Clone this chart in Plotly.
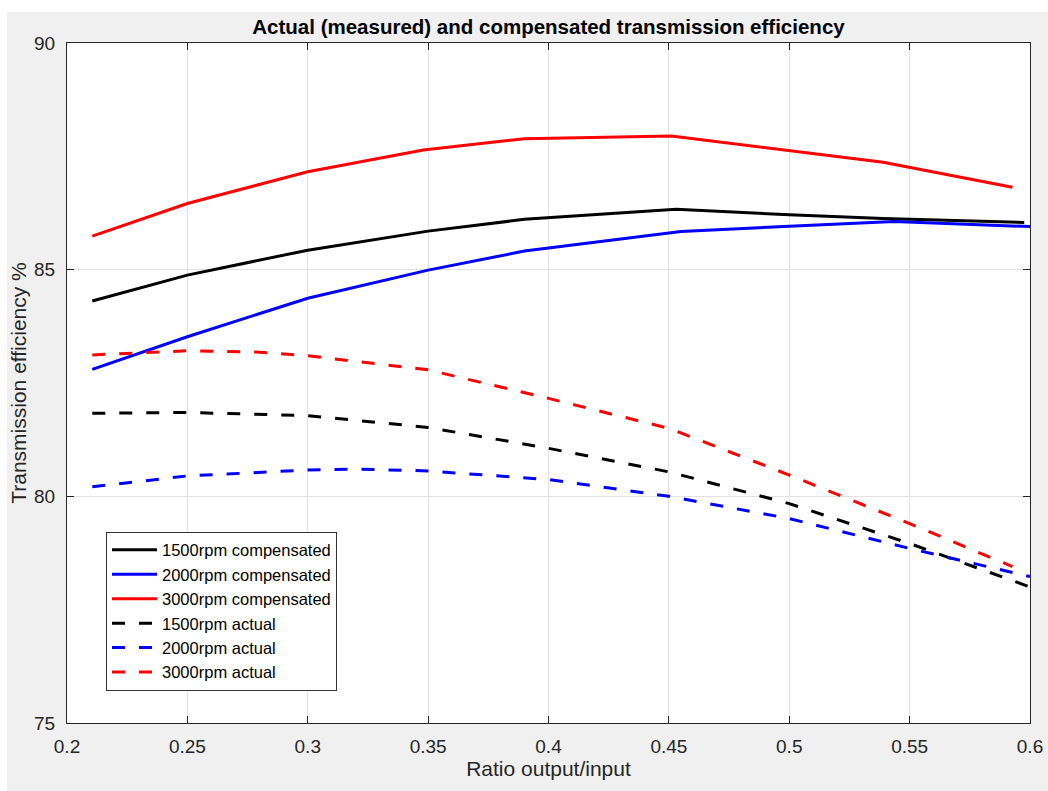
import plotly.graph_objects as go

# Compensated (solid) series
x_c1500 = [0.2105, 0.25, 0.30, 0.35, 0.39, 0.453, 0.50, 0.539, 0.5976]
y_c1500 = [84.31, 84.88, 85.43, 85.85, 86.11, 86.33, 86.21, 86.13, 86.04]

x_c2000 = [0.2105, 0.25, 0.30, 0.35, 0.39, 0.455, 0.50, 0.5435, 0.60]
y_c2000 = [82.80, 83.52, 84.37, 84.99, 85.41, 85.84, 85.96, 86.06, 85.95]

x_c3000 = [0.2105, 0.25, 0.30, 0.348, 0.39, 0.451, 0.539, 0.5927]
y_c3000 = [85.74, 86.46, 87.16, 87.64, 87.89, 87.95, 87.37, 86.82]

# Actual (dashed) series
x_a1500 = [0.2105, 0.25, 0.30, 0.35, 0.40, 0.45, 0.50, 0.55, 0.60]
y_a1500 = [81.83, 81.85, 81.78, 81.52, 81.06, 80.54, 79.84, 78.96, 78.00]

x_a2000 = [0.2105, 0.25, 0.30, 0.321, 0.35, 0.40, 0.45, 0.50, 0.55, 0.60]
y_a2000 = [80.21, 80.45, 80.58, 80.60, 80.56, 80.37, 80.00, 79.51, 78.85, 78.23]

x_a3000 = [0.2105, 0.25, 0.28, 0.30, 0.35, 0.40, 0.45, 0.50, 0.55, 0.5927]
y_a3000 = [83.12, 83.21, 83.18, 83.10, 82.79, 82.16, 81.50, 80.47, 79.40, 78.45]

names = ["1500rpm compensated", "2000rpm compensated", "3000rpm compensated",
         "1500rpm actual", "2000rpm actual", "3000rpm actual"]
x_ticks = [0.2, 0.25, 0.3, 0.35, 0.4, 0.45, 0.5, 0.55, 0.6]
x_tick_text = ["0.2", "0.25", "0.3", "0.35", "0.4", "0.45", "0.5", "0.55", "0.6"]
y_ticks = [75, 80, 85, 90]

xs = [x_c1500, x_c2000, x_c3000, x_a1500, x_a2000, x_a3000]
ys = [y_c1500, y_c2000, y_c3000, y_a1500, y_a2000, y_a3000]
colors = ["#000000", "#0000ff", "#ff0000", "#000000", "#0000ff", "#ff0000"]
dashes = ["solid", "solid", "solid", "13px,14px", "13px,14px", "13px,14px"]

FONT = "Liberation Sans, Arial, Helvetica, sans-serif"

fig = go.Figure()
for i in range(6):
    fig.add_trace(go.Scatter(
        x=xs[i], y=ys[i], mode="lines", name=names[i],
        line=dict(color=colors[i], width=3, dash=dashes[i]),
    ))

axis_common = dict(
    showline=True, linecolor="#262626", linewidth=1, mirror="ticks",
    ticks="inside", ticklen=7, tickcolor="#262626",
    showgrid=True, gridcolor="#e2e2e2", gridwidth=1,
    zeroline=False, automargin=False,
    tickfont=dict(family=FONT, size=19, color="#262626"),
)

# page offset (body margin) so that the plot sits where the reference has it
OFF_L, OFF_T = 7, 12
W, H = 1048 - OFF_L, 791 - OFF_T

fig.update_layout(
    width=W, height=H, autosize=False,
    paper_bgcolor="#f0f0f0", plot_bgcolor="#ffffff",
    margin=dict(l=67 - OFF_L, r=18, t=43 - OFF_T, b=68, pad=0, autoexpand=False),
    title=dict(text="<b>Actual (measured) and compensated transmission efficiency</b>",
               x=0.5, xanchor="center", xref="paper",
               y=1 - (27 - OFF_T) / H, yanchor="middle",
               font=dict(family=FONT, size=20.5, color="#000000")),
    xaxis=dict(range=[0.2, 0.6], tickvals=x_ticks, ticktext=x_tick_text,
               ticklabelstandoff=6,
               title=dict(text="Ratio output/input", standoff=4,
                          font=dict(family=FONT, size=21, color="#262626")),
               **axis_common),
    yaxis=dict(range=[75, 90], tickvals=y_ticks, ticklabelstandoff=7,
               title=dict(text="Transmission efficiency %", standoff=6,
                          font=dict(family=FONT, size=21, color="#262626")),
               **axis_common),
    legend=dict(x=0.0405, y=0.2815, xanchor="left", yanchor="top",
                bgcolor="#ffffff", bordercolor="#333333", borderwidth=1,
                font=dict(family=FONT, size=16.5, color="#000000"),
                traceorder="normal", itemwidth=45),
    showlegend=True,
)

fig.write_html(
    "out.html",
    post_script=(
        "document.body.style.margin='%dpx 0 0 %dpx';"
        "document.body.style.overflow='hidden';"
        "document.body.style.background='#ffffff';" % (OFF_T, OFF_L)
    ),
)
